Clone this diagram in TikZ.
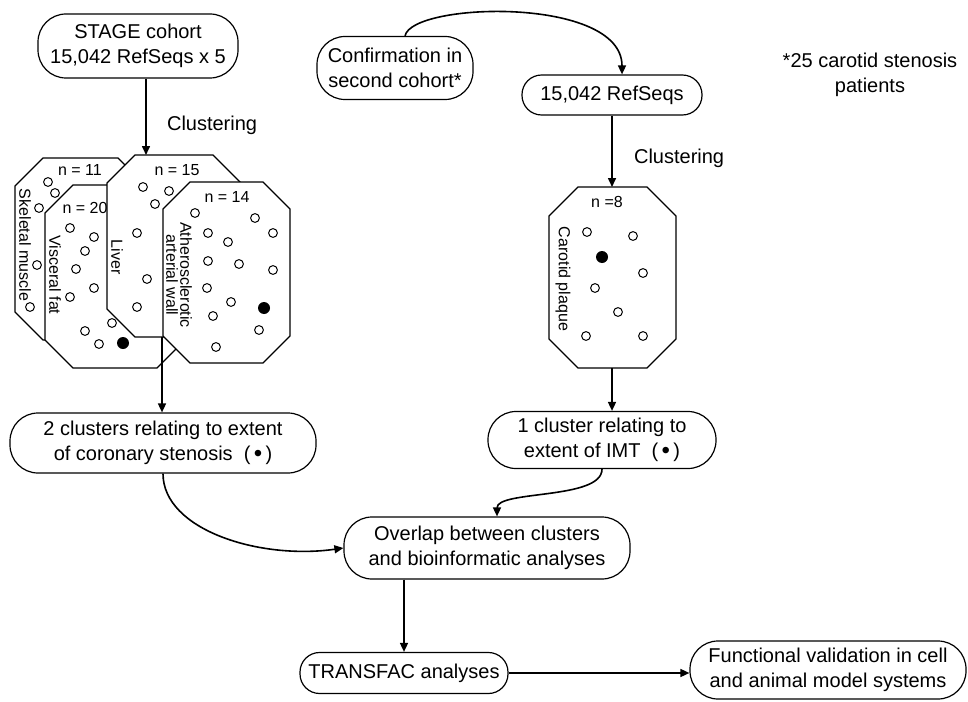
\documentclass[tikz,border=0pt]{standalone}
\usepackage{fontspec}
\setmainfont{Liberation Sans}
\usetikzlibrary{arrows.meta}

\tikzset{
	box/.style={draw, line width=0.6pt, rounded corners=14pt, align=center, inner sep=2pt, font=\fontsize{10}{12.8}\selectfont},
	lowbox/.style={box, rounded corners=9.8pt},
	flow/.style={line width=0.8pt, -{Triangle[length=4.5pt,width=4pt]}},
	octa/.style={line width=0.6pt, fill=white, draw=black},
	gene/.style={line width=0.5pt},
	tag/.style={font=\fontsize{8}{8}\selectfont, inner sep=0pt},
	tissue/.style={font=\fontsize{8}{7}\selectfont, rotate=-90, align=center, inner sep=0pt},
	plain/.style={font=\fontsize{10}{12.8}\selectfont, align=center}
}

\newcommand{\octagon}[5]{\filldraw[octa] (#1+#5,#2) -- (#3-#5,#2) -- (#3,#2+#5) -- (#3,#4-#5) -- (#3-#5,#4) -- (#1+#5,#4) -- (#1,#4-#5) -- (#1,#2+#5) -- cycle;}
\newcommand{\genes}[1]{\foreach \gx/\gy in {#1} {\draw[gene] (\gx,\gy) circle[radius=2.2pt];}}
\newcommand{\dotmark}{(\,{\fontsize{12}{12}\selectfont\raisebox{-0.4pt}{\textbullet}}\,)}

\begin{document}
\begin{tikzpicture}[x=0.5pt, y=-0.5pt]
	\useasboundingbox (0,0) rectangle (968,701);

	\node[box, minimum width=100pt, minimum height=32pt] (stage) at (138,46) {STAGE cohort\\15,042 RefSeqs x 5};
	\node[box, minimum width=78pt, minimum height=31.5pt] (confirm) at (395,68) {Confirmation in\\second cohort*};
	\node[lowbox, minimum width=90pt, minimum height=20pt] (refseq) at (612,95) {15,042 RefSeqs};
	\node[plain] (note) at (870,75) {*25 carotid stenosis\\patients};

	\node[plain, anchor=west] (clustL) at (160,125) {Clustering};
	\node[plain, anchor=west] (clustR) at (627,158) {Clustering};

	\octagon{15}{158}{146}{340}{28}
	\node[tag] (nskel) at (80,170) {n = 11};
	\node[tissue] (skel) at (25,245) {Skeletal muscle};
	\genes{48/182, 55/193, 39/208, 37/265, 30/307}

	\octagon{45}{185}{185}{368}{28}
	\node[tag] (nvisc) at (85,208) {n = 20};
	\node[tissue] (visc) at (55,275) {Visceral fat};
	\genes{70/228, 94/237, 85/251, 76/269, 94/288, 70/297, 112/323, 85/331, 99/344}
	\fill (123,343) circle[radius=3pt];

	\octagon{107}{155}{241}{337}{28}
	\node[tag] (nliv) at (177,170) {n = 15};
	\node[tissue] (liv) at (117,257) {Liver};
	\genes{143/187, 169/191, 155/204, 137/233, 147/279, 137/307}

	\octagon{163}{182}{290}{363}{27}
	\node[tag] (nath) at (227,197) {n = 14};
	\node[tissue] (athero) at (179,275) {Atherosclerotic\\arterial wall};
	\genes{195/213, 255/218, 208/233, 273/233, 228/242, 208/261, 239/264, 273/270, 207/288, 231/302, 213/316, 259/330, 216/347}
	\fill (264,308) circle[radius=3pt];

	\octagon{549}{187}{676}{368}{29}
	\node[tag] (nplq) at (607,202) {n =8};
	\node[tissue] (plq) at (563,279) {Carotid plaque};
	\genes{587/232, 633/236, 643/273, 595/288, 618/312, 586/336, 643/336}
	\fill (602,257) circle[radius=3pt];

	\node[box, minimum width=153pt, minimum height=30pt] (twoclust) at (163,443) {2 clusters relating to extent\\of coronary stenosis\ \ \dotmark};
	\node[box, minimum width=114pt, minimum height=28.5pt] (oneclust) at (602,440) {1 cluster relating to\\extent of IMT\ \ \dotmark};
	\node[box, minimum width=143pt, minimum height=31pt] (overlap) at (487,548) {Overlap between clusters\\and bioinformatic analyses};
	\node[lowbox, minimum width=104pt, minimum height=20.5pt] (transfac) at (404,673) {TRANSFAC analyses};
	\node[box, minimum width=138pt, minimum height=29pt] (funct) at (828,670) {Functional validation in cell\\and animal model systems};

	\coordinate (livtop) at (146,155);
	\coordinate (livbot) at (162,337);
	\coordinate (plqtop) at (612,187);
	\coordinate (plqbot) at (612,368);

	\draw[flow] (stage.south -| livtop) -- (livtop);
	\draw[flow] ([xshift=5pt]confirm.north) .. controls (412,2) and (622,-4) .. ([xshift=5pt]refseq.north);
	\draw[flow] (refseq.south) -- (plqtop);
	\draw[flow] (livbot) -- (livbot |- twoclust.north);
	\draw[flow] (plqbot) -- (plqbot |- oneclust.north);
	\draw[flow] (twoclust.south) .. controls (163,530) and (260,560) .. (overlap.west);
	\draw[flow] (oneclust.south) .. controls (602,500) and (497,490) .. ([xshift=5pt]overlap.north);
	\draw[flow] (overlap.south -| transfac.north) -- (transfac.north);
	\draw[flow] (transfac.east) -- (transfac.east -| funct.west);
\end{tikzpicture}
\end{document}
